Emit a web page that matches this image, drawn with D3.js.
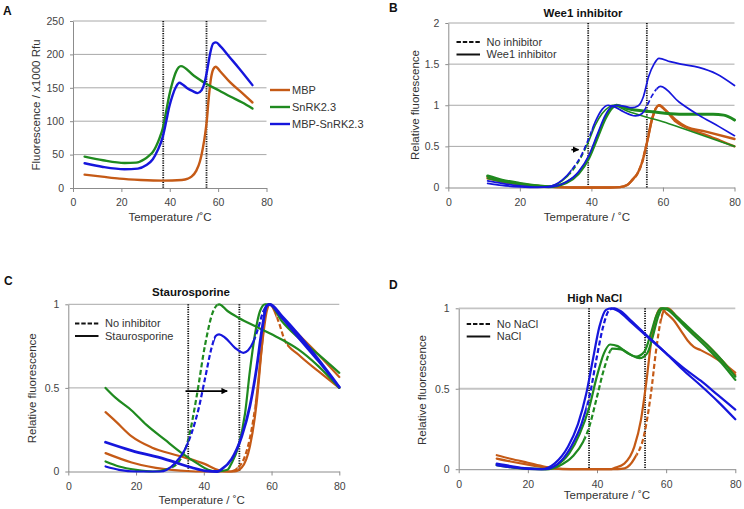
<!DOCTYPE html>
<html><head><meta charset="utf-8">
<script src="https://cdn.jsdelivr.net/npm/d3@7"></script>
<style>body{margin:0;background:#fff}svg{display:block}text{font-family:"Liberation Sans",Arial,sans-serif}</style>
</head><body><svg id="c" width="744" height="509"><defs></defs></svg>
<script>
// ---------- tick values ----------
const xTicks = [0, 20, 40, 60, 80];
const aYTicks = [0, 50, 100, 150, 200, 250];
const bYTicks = [0, 0.5, 1, 1.5, 2];
const cdYTicks = [0, 0.5, 1];

// ---------- labels ----------
const aLegend = ["MBP", "SnRK2.3", "MBP-SnRK2.3"];
const bLegend = ["No inhibitor", "Wee1 inhibitor"];
const cLegend = ["No inhibitor", "Staurosporine"];
const dLegend = ["No NaCl", "NaCl"];
const titles = ["", "Wee1 inhibitor", "Staurosporine", "High NaCl"];

// ---------- vertical marker temperatures ----------
const aMarks = [37.3, 55.2];
const bMarks = [39.1, 55.5];
const cMarks = [35.4, 50.5];
const dMarks = [37.7, 53.9];

// ---------- Panel A: fluorescence (x1000 Rfu) ----------
const aMBP = [[4.8,20],[12,17],[19.2,14],[28,12],[37,11],[45,12],[47.5,14],[49,17],[51,26],[52.5,40],[53.7,60],[54.6,80],[55.3,100],[56,130],[57,163],[58,178],[59,181.5],[61,174],[65,158],[70,142],[74.2,128]];
const aSnRK = [[4.8,47],[12.4,41.5],[21.3,37.5],[26.1,38],[29.5,43],[31.6,49],[33,54],[35.7,74],[37.1,89],[38.5,114],[39.8,139],[41.2,159],[42.6,174],[44.6,182.5],[50,168],[55,156],[60.4,146],[65,137],[70,128],[74.2,119]];
const aMBPSnRK = [[4.8,37],[12.4,31.5],[21.3,28],[26.8,29],[30.2,34],[33,43],[35,56.5],[37.1,76.5],[38.5,99],[39.8,121.5],[41.2,139],[42.6,151.5],[44,157.5],[45.3,155],[47.4,149],[49.5,145],[51.5,142],[53.2,146.5],[54.5,159],[55.6,179],[56.7,201.5],[58,216.5],[59.1,218],[61.1,211.5],[64.6,196.5],[68.7,179],[74.2,154]];

// ---------- Panel B: Wee1 inhibitor ----------
const bMBPdash = [[11,0.11],[15,0.07],[20,0.04],[25,0.02],[30,0.005],[35,0],[45,0],[48,0.005],[50,0.03],[51.4,0.09],[53,0.18],[54.2,0.31],[55.6,0.56],[57,0.84],[58.9,1.0],[60.7,0.94],[63.6,0.82],[66.4,0.74],[72,0.68],[80,0.59]];
const bMBPsolid = [[11,0.12],[15,0.08],[20,0.045],[25,0.02],[30,0.005],[35,0],[45,0],[48,0.005],[50,0.03],[51.4,0.09],[53,0.18],[54.2,0.31],[55.6,0.56],[57,0.84],[58.9,1.0],[60.7,0.94],[63.6,0.8],[66.4,0.73],[72,0.64],[76,0.57],[80,0.5]];
const bSnRKdash = [[11,0.11],[15,0.07],[20,0.04],[25,0.02],[28,0.015],[31.8,0.08],[34.6,0.2],[37.4,0.39],[39.3,0.57],[41.1,0.76],[43,0.9],[45,0.98],[46,1.0],[50,0.93],[55,0.86],[60,0.8],[66,0.71],[72,0.62],[80,0.5]];
const bSnRKsolid = [[11,0.14],[15,0.09],[20,0.05],[25,0.02],[28,0.01],[33,0.06],[36.4,0.17],[39.3,0.36],[41.6,0.6],[43.9,0.84],[45.8,0.97],[47,1.0],[50,0.96],[57,0.92],[64.5,0.89],[74,0.89],[77,0.88],[80,0.82]];
const bMBPSnRKdash = [[11,0.05],[15,0.025],[20,0.008],[25,0.0],[28,0.01],[31.8,0.09],[34.6,0.22],[37.4,0.41],[39.3,0.6],[41.1,0.8],[43,0.95],[44.7,1.0],[46.5,0.98],[49,0.92],[52.3,0.87],[54.2,0.9],[55.6,1.0],[57,1.12],[59.3,1.23],[64.5,1.04],[70,0.88],[75.7,0.74],[80,0.63]];
const bMBPSnRKsolid = [[11,0.08],[15,0.05],[20,0.02],[25,0.005],[28,0.005],[32.7,0.06],[36.4,0.19],[39.3,0.39],[41.6,0.64],[43.9,0.88],[45.8,0.99],[47.2,1.0],[49,0.99],[51.4,0.97],[53,0.99],[54.5,1.1],[56,1.35],[57.5,1.5],[58.9,1.57],[62,1.53],[65,1.5],[70,1.46],[75,1.38],[80,1.24]];
const bArrow = [[34.4,0.46],[36.4,0.46]];

// ---------- Panel C: Staurosporine ----------
const cMBPdash = [[11,0.11],[18.7,0.054],[28.5,0.014],[35,0.003],[40,0],[48,0],[50.2,0.024],[52.2,0.094],[54.1,0.25],[55.6,0.45],[57.1,0.74],[58.6,0.96],[59.5,1.0],[62,0.9],[64,0.78],[67.9,0.7],[73.8,0.6],[80,0.5]];
const cMBPsolid = [[11,0.355],[14,0.3],[18.7,0.21],[24.6,0.144],[32.5,0.094],[40.4,0.044],[44.3,0.008],[47.2,0],[49,0],[51.2,0.024],[53.6,0.15],[55.6,0.41],[57.1,0.74],[58.1,0.94],[59.2,1.0],[63,0.92],[67.9,0.82],[73.8,0.7],[80,0.565]];
const cSnRKdash = [[11,0.06],[15,0.03],[20,0.01],[25,0.0],[30,0.02],[33,0.07],[35.4,0.19],[37.9,0.45],[40.4,0.76],[42.8,0.96],[44.5,1.0],[47,0.96],[50.2,0.92],[56.1,0.86],[62,0.8],[67.9,0.73],[73.8,0.63],[80,0.5]];
const cSnRKsolid = [[11,0.5],[14,0.44],[18.7,0.365],[23,0.28],[28.5,0.19],[33.5,0.11],[38.4,0.044],[41.3,0.01],[44,0.0],[47,0.01],[48.2,0.05],[50.2,0.15],[52.2,0.35],[53.6,0.6],[55.1,0.82],[56.6,0.96],[58.1,1.0],[59.5,1.0],[63,0.9],[67.9,0.8],[73.8,0.7],[80,0.59]];
const cMBPSnRKdash = [[11,0.03],[15,0.01],[20,0.0],[27,0.0],[31.5,0.05],[34.4,0.13],[36.4,0.23],[38.4,0.37],[40.4,0.56],[42.3,0.74],[43.5,0.81],[44.5,0.82],[46.3,0.8],[49.2,0.74],[51.7,0.71],[53.1,0.725],[54.6,0.775],[56.1,0.86],[57.6,0.96],[59.2,1.0],[63,0.92],[67.9,0.8],[73.8,0.66],[80,0.505]];
const cMBPSnRKsolid = [[11,0.175],[18.7,0.125],[28.5,0.074],[36.4,0.024],[40.4,0.004],[44,0.0],[45.3,0.014],[48.2,0.074],[51.2,0.21],[53.6,0.39],[55.6,0.62],[57.1,0.84],[58.6,0.99],[59.6,1.0],[63,0.93],[67.9,0.82],[73.8,0.67],[80,0.505]];
const cArrow = [[34.6,0.481],[46.9,0.481]];

// ---------- Panel D: High NaCl ----------
const dMBPdash = [[11,0.066],[15,0.048],[20,0.028],[25,0.01],[30,0.001],[35,0],[46,0],[48,0.005],[50.8,0.066],[53.7,0.22],[55.6,0.47],[57.1,0.74],[58.5,0.93],[59.5,0.99],[60.5,1.0],[63,0.95],[66.2,0.88],[72,0.77],[76,0.68],[80,0.585]];
const dMBPsolid = [[11,0.087],[15,0.065],[20,0.04],[25,0.015],[30,0.002],[35,0],[44,0],[45,0.008],[47.9,0.035],[50.8,0.14],[52.7,0.305],[54.2,0.53],[55.6,0.78],[57.1,0.95],[58.5,1.0],[60,0.97],[62,0.93],[64.3,0.86],[66.2,0.8],[68,0.76],[70,0.74],[75,0.68],[80,0.6]];
const dSnRKdash = [[11,0.025],[15,0.012],[20,0.002],[26,0.0],[29,0.02],[33,0.08],[36,0.17],[37.7,0.26],[40,0.45],[42,0.62],[44.5,0.75],[47,0.745],[49.9,0.71],[52.3,0.69],[54.5,0.72],[56.2,0.83],[57.7,0.95],[59,1.0],[60.5,0.99],[63,0.94],[66.2,0.87],[72,0.75],[76,0.66],[80,0.555]];
const dSnRKsolid = [[11,0.03],[15,0.015],[20,0.003],[25,0.0],[28,0.02],[32,0.1],[35,0.22],[37.7,0.38],[40,0.58],[42,0.72],[43.8,0.775],[46,0.765],[48.9,0.72],[51.3,0.7],[53.7,0.73],[55.6,0.845],[57.1,0.95],[58.5,1.0],[60,1.0],[63,0.95],[66.2,0.886],[72,0.77],[76,0.68],[80,0.575]];
const dMBPSnRKdash = [[11,0.025],[15,0.012],[20,0.002],[25,0.0],[28.5,0.03],[32.5,0.14],[35.5,0.28],[38,0.47],[39.8,0.68],[41.7,0.88],[43.6,0.99],[45,1.0],[47,0.98],[50,0.92],[55,0.82],[60,0.72],[65,0.615],[70,0.52],[75,0.42],[80,0.31]];
const dMBPSnRKsolid = [[11,0.035],[15,0.02],[20,0.005],[24,0.0],[27.7,0.035],[31.6,0.14],[34.5,0.28],[36.9,0.47],[38.8,0.68],[40.7,0.886],[42.6,0.99],[44.1,1.0],[46,0.985],[50,0.91],[55,0.815],[60,0.72],[65,0.63],[70,0.55],[75,0.46],[80,0.37]];

// ---------- style ----------
const ORANGE = "#c55a16", GREEN = "#1f8a1f", BLUE = "#1616dc";
const svg = d3.select("#c");
const defs = svg.select("defs");
defs.append("marker").attr("id","arr").attr("viewBox","0 0 10 10").attr("refX",9).attr("refY",5)
  .attr("markerWidth",4).attr("markerHeight",4).attr("orient","auto")
  .append("path").attr("d","M0,0L10,5L0,10z").attr("fill","#000");

let clipN = 0;
function curve(x, y, pts, color, width, dashRanges) {
  const line = d3.line().x(d => x(d[0])).y(d => y(d[1])).curve(d3.curveMonotoneX);
  const base = p => p.attr("d", line(pts)).attr("fill","none").attr("stroke",color)
    .attr("stroke-width",width).attr("stroke-linejoin","round");
  if (!dashRanges || !dashRanges.length) {
    base(svg.append("path")).attr("stroke-linecap","round");
    return;
  }
  const idS = "cs" + (clipN++), idD = "cd" + (clipN++);
  const cs = defs.append("clipPath").attr("id", idS);
  const cd = defs.append("clipPath").attr("id", idD);
  const b = [-1000].concat(dashRanges.flat().map(x)).concat([2000]);
  for (let i = 0; i < b.length; i += 2)
    cs.append("rect").attr("x", b[i]).attr("y", 0).attr("width", b[i+1]-b[i]).attr("height", 509);
  dashRanges.forEach(r => cd.append("rect").attr("x", x(r[0])).attr("y", 0).attr("width", x(r[1])-x(r[0])).attr("height", 509));
  base(svg.append("path")).attr("stroke-linecap","round").attr("clip-path", `url(#${idS})`);
  base(svg.append("path")).attr("stroke-dasharray","5,2.6").attr("clip-path", `url(#${idD})`);
}

function panel(o) {
  const x = d3.scaleLinear().domain([0,80]).range(o.xr);
  const y = d3.scaleLinear().domain([0,o.ymax]).range(o.yr);
  // grid
  svg.append("g").selectAll("line").data(o.yTicks.filter(t => t > 0)).join("line")
    .attr("x1", o.xr[0]).attr("x2", o.xr[1]).attr("y1", d => y(d)).attr("y2", d => y(d))
    .attr("stroke", o.gridColor || "#a8a8a8").attr("stroke-width", o.gridW || 1);
  // axes
  const gx = svg.append("g").attr("transform", `translate(0,${o.yr[0]})`)
    .call(d3.axisBottom(x).tickValues(xTicks).tickSize(4).tickSizeOuter(0).tickPadding(7).tickFormat(d3.format("d")));
  const gy = svg.append("g").attr("transform", `translate(${o.xr[0]},0)`)
    .call(d3.axisLeft(y).tickValues(o.yTicks).tickSize(3).tickSizeOuter(0).tickPadding(6).tickFormat(d => String(d)));
  [gx, gy].forEach(g => {
    g.select(".domain").attr("stroke", "#8c8c8c");
    g.selectAll(".tick line").attr("stroke", "#8c8c8c");
    g.selectAll("text").attr("fill", "#444").style("font-size", "10.5px").style("font-family", '"Liberation Sans",Arial,sans-serif');
  });
  // markers
  o.marks.forEach(m => svg.append("line").attr("x1", x(m)).attr("x2", x(m))
    .attr("y1", o.yr[1]).attr("y2", o.yr[0]).attr("stroke", "#111").attr("stroke-width", 1.8).attr("stroke-dasharray", "1.2,1.2"));
  // curves
  o.curves.forEach(c => curve(x, y, c[0], c[1], c[2], c[3]));
  // arrow
  if (o.arrow) {
    svg.append("line").attr("x1", x(o.arrow[0][0])).attr("y1", y(o.arrow[0][1]))
      .attr("x2", x(o.arrow[1][0])).attr("y2", y(o.arrow[1][1]))
      .attr("stroke", "#000").attr("stroke-width", 1.6).attr("marker-end", "url(#arr)");
  }
  // axis titles
  svg.append("text").attr("x", o.xl[0]).attr("y", o.xl[1]).attr("text-anchor", "middle")
    .style("font-size", "11.5px").attr("fill", "#333").text(o.xlabel);
  svg.append("text").attr("transform", `translate(${o.yl[0]},${o.yl[1]}) rotate(-90)`).attr("text-anchor", "middle")
    .attr("dy", "0.35em").style("font-size", "11.5px").attr("fill", "#333").text(o.ylabel);
  // letter
  svg.append("text").attr("x", o.letter[1]).attr("y", o.letter[2]).style("font-size", "12px")
    .style("font-weight", "bold").attr("fill", "#111").text(o.letter[0]);
  if (o.title) svg.append("text").attr("x", o.title[1]).attr("y", o.title[2]).attr("text-anchor", "middle")
    .style("font-size", "11.5px").style("font-weight", "bold").attr("fill", "#111").text(o.title[0]);
  // dashed/solid legend
  if (o.legend) {
    const [lx, ly, labels] = o.legend;
    labels.forEach((t, i) => {
      const yy = ly + i * 12.5;
      svg.append("line").attr("x1", lx).attr("x2", lx + 23.5).attr("y1", yy).attr("y2", yy)
        .attr("stroke", "#111").attr("stroke-width", 2).attr("stroke-dasharray", i === 0 ? "4.4,1.9" : null);
      svg.append("text").attr("x", lx + 30).attr("y", yy).attr("dy", "0.35em")
        .style("font-size", "11px").attr("fill", "#333").text(t);
    });
  }
}

// Panel A
panel({
  xr: [73, 266.5], yr: [188, 21], ymax: 250, yTicks: aYTicks, marks: aMarks,
  curves: [[aMBP, ORANGE, 2.4], [aSnRK, GREEN, 2.4], [aMBPSnRK, BLUE, 2.4]],
  xl: [170, 221], xlabel: "Temperature /\u02daC",
  yl: [36, 105], ylabel: "Fluorescence / x1000 Rfu",
  letter: ["A", 3, 15]
});
[[ORANGE, 0], [GREEN, 1], [BLUE, 2]].forEach(([c, i]) => {
  const yy = 90 + i * 17;
  svg.append("line").attr("x1", 270).attr("x2", 290).attr("y1", yy).attr("y2", yy).attr("stroke", c).attr("stroke-width", 2.4);
  svg.append("text").attr("x", 292).attr("y", yy).attr("dy", "0.35em").style("font-size", "11px").attr("fill", "#333").text(aLegend[i]);
});

// Panel B
panel({
  xr: [448.3, 734.5], yr: [187.5, 23], ymax: 2, yTicks: bYTicks, marks: bMarks,
  curves: [
    [bMBPdash, ORANGE, 2.4, [[52, 56]]], [bMBPsolid, ORANGE, 2.4],
    [bSnRKdash, GREEN, 1.6, [[34, 38.5]]], [bSnRKsolid, GREEN, 3],
    [bMBPSnRKdash, BLUE, 1.7, [[34.5, 40], [55.3, 58.2]]], [bMBPSnRKsolid, BLUE, 1.7]
  ],
  arrow: bArrow,
  xl: [587, 221], xlabel: "Temperature / \u02daC",
  yl: [415, 105], ylabel: "Relative fluorescence",
  letter: ["B", 389, 12], title: [titles[1], 583, 17],
  legend: [456.5, 42, bLegend]
});

// Panel C
panel({
  xr: [68.3, 339.3], yr: [471.5, 304.3], ymax: 1, yTicks: cdYTicks, marks: cMarks,
  curves: [
    [cMBPdash, ORANGE, 2.2, [[50, 55], [61.5, 64.5]]], [cMBPsolid, ORANGE, 2.2],
    [cSnRKdash, GREEN, 2.2, [[30, 44]]], [cSnRKsolid, GREEN, 2.2],
    [cMBPSnRKdash, BLUE, 2.2, [[35.5, 43], [55, 57.5]]], [cMBPSnRKsolid, BLUE, 2.8]
  ],
  arrow: cArrow,
  xl: [201.7, 504], xlabel: "Temperature / \u02daC",
  yl: [32.3, 388.3], ylabel: "Relative fluorescence",
  letter: ["C", 4, 285], title: [titles[2], 191, 296],
  legend: [75, 323.5, cLegend]
});

// Panel D
panel({
  xr: [458.7, 735.3], yr: [469.2, 308.3], ymax: 1, yTicks: cdYTicks, marks: dMarks,
  gridColor: "#c4c4c4", gridW: 1.8,
  curves: [
    [dMBPdash, ORANGE, 2.2, [[51.5, 58.5]]], [dMBPsolid, ORANGE, 2.2],
    [dSnRKdash, GREEN, 2.2, [[36.5, 44]]], [dSnRKsolid, GREEN, 2.2],
    [dMBPSnRKdash, BLUE, 2.2, [[37, 44.5]]], [dMBPSnRKsolid, BLUE, 2.2]
  ],
  xl: [607, 499], xlabel: "Temperature / \u02daC",
  yl: [422, 390], ylabel: "Relative fluorescence",
  letter: ["D", 389, 289], title: [titles[3], 594.7, 302],
  legend: [466.7, 324, dLegend]
});
</script></body></html>
